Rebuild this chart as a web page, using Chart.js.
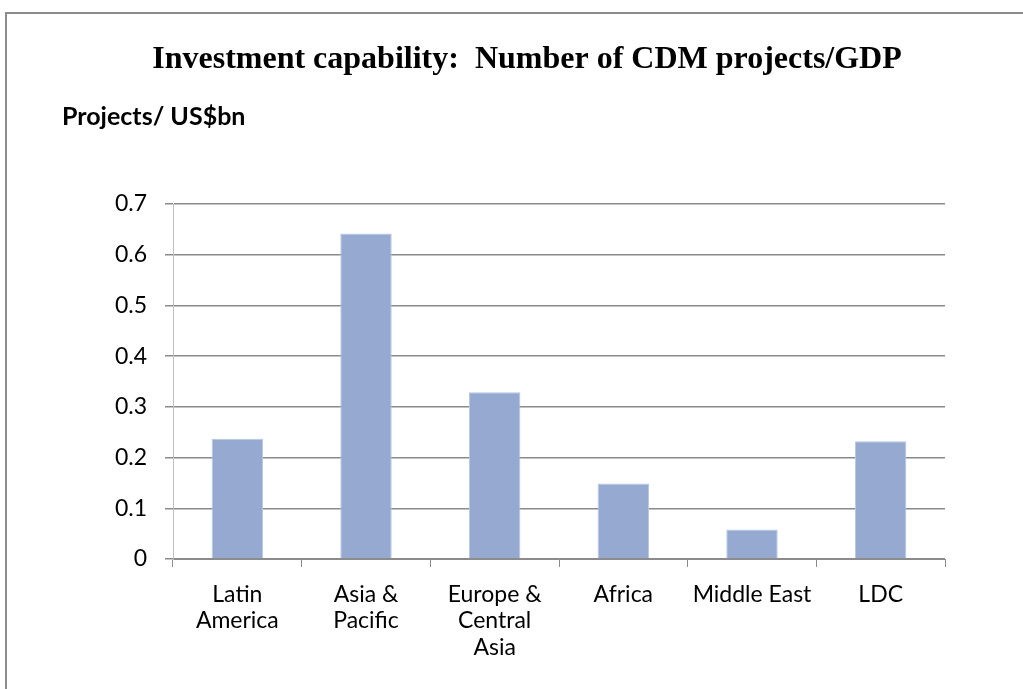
<!DOCTYPE html>
<html>
<head>
<meta charset="utf-8">
<script src="https://cdn.jsdelivr.net/npm/chart.js@4"></script>
<style>
  html, body { margin: 0; padding: 0; background: #fff; overflow: hidden; }
  canvas { display: block; }
</style>
</head>
<body>
<canvas id="cdmChart" width="1023" height="689"></canvas>
<script>
var regions = [['Latin', 'America'], ['Asia &', 'Pacific'], ['Europe &', 'Central', 'Asia'], 'Africa', 'Middle East', 'LDC'];
var projectsPerGdp = [0.237, 0.642, 0.329, 0.149, 0.058, 0.232];
var yTicks = [0, 0.1, 0.2, 0.3, 0.4, 0.5, 0.6, 0.7];

var chartTitle = 'Investment capability:  Number of CDM projects/GDP';
var unitLabel = 'Projects/ US$bn';

var sansFont = 'Lato, "Open Sans", sans-serif';

// outer frame (left and top edges), title and unit caption
var headerText = {
    id: 'headerText',
    afterDraw: function(chart) {
        var ctx = chart.ctx;
        ctx.save();
        ctx.fillStyle = '#8c8c8c';
        ctx.fillRect(5, 12, 2, chart.height - 12);
        ctx.fillRect(5, 12, chart.width - 5, 2);

        ctx.fillStyle = '#000';
        ctx.textBaseline = 'middle';
        ctx.textAlign = 'center';
        ctx.font = 'bold 32px "Liberation Serif", "Times New Roman", serif';
        ctx.fillText(chartTitle, 527, 60);
        ctx.textAlign = 'left';
        ctx.font = 'bold 25px ' + sansFont;
        ctx.fillText(unitLabel, 62, 117);
        ctx.restore();
    }
};

var ctx = document.getElementById('cdmChart').getContext('2d');
var cdmChart = new Chart(ctx, {
    type: 'bar',
    data: {
        labels: regions,
        datasets: [{
            label: unitLabel,
            data: projectsPerGdp,
            backgroundColor: '#95a9d1',
            borderColor: '#b9c8e4',
            borderWidth: 1,
            barPercentage: 0.4,
            categoryPercentage: 1.0
        }]
    },
    options: {
        responsive: false,
        animation: false,
        layout: { padding: { left: 0, right: 78, top: 204, bottom: 0 } },
        plugins: {
            legend: { display: false },
            title: { display: false },
            tooltip: { enabled: false }
        },
        scales: {
            x: {
                grid: {
                    offset: true,
                    drawOnChartArea: false,
                    drawTicks: true,
                    tickLength: 8,
                    color: '#8c8c8c'
                },
                border: { color: '#8c8c8c', width: 1 },
                ticks: {
                    color: '#000',
                    font: { family: sansFont, size: 23, lineHeight: 1.15 },
                    padding: 14,
                    maxRotation: 0,
                    autoSkip: false
                },
                afterFit: function(scale) { scale.height = 130; }
            },
            y: {
                min: 0,
                max: 0.7,
                afterBuildTicks: function(scale) {
                    scale.ticks = yTicks.map(function(v) { return { value: v }; });
                },
                grid: {
                    color: '#8a8a8a',
                    lineWidth: 1.5,
                    tickLength: 8
                },
                border: { color: '#bfbfbf', width: 1 },
                ticks: {
                    color: '#000',
                    font: { family: sansFont, size: 23 },
                    padding: 18,
                    callback: function(v) { return v === 0 ? '0' : v.toFixed(1); }
                },
                afterFit: function(scale) { scale.width = 173; }
            }
        }
    },
    plugins: [headerText]
});
</script>
</body>
</html>
